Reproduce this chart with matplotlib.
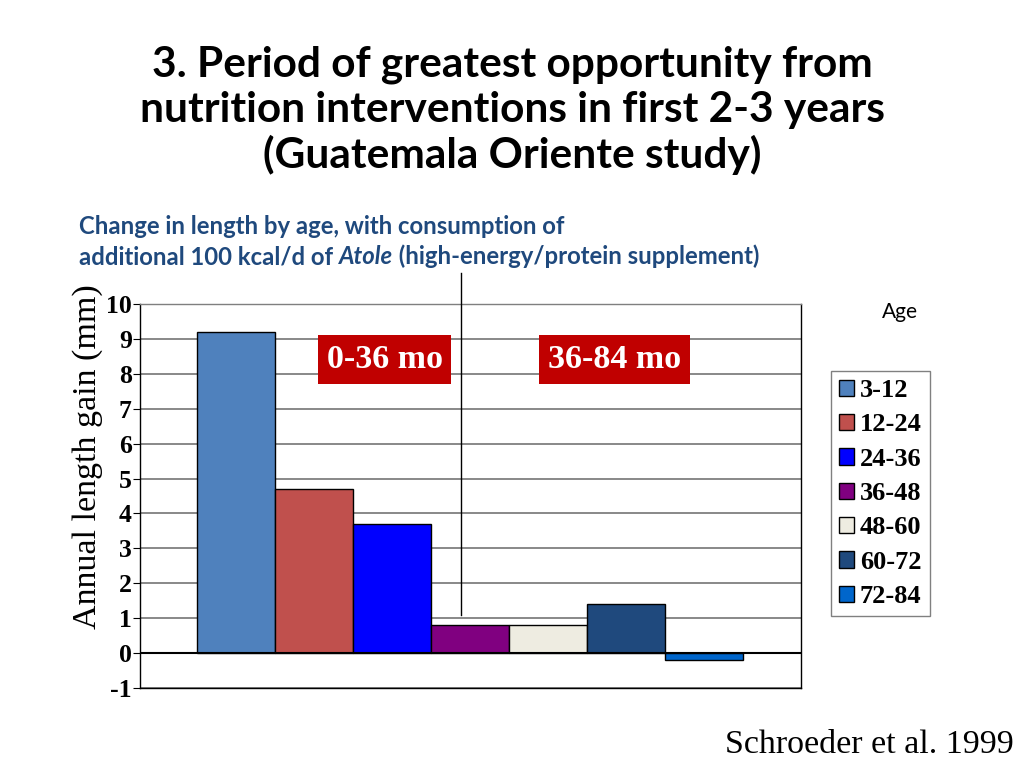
import numpy as np
import matplotlib
matplotlib.use('Agg')
import matplotlib.pyplot as plt

# data
ages = ['3-12', '12-24', '24-36', '36-48', '48-60', '60-72', '72-84']
gain = [9.2, 4.7, 3.7, 0.8, 0.8, 1.4, -0.2]
colors = ['#4F81BD', '#C0504D', '#0000FF', '#800080', '#EEECE1', '#1F497D', '#0066CC']
yticks = list(range(-1, 11))

serif = 'Liberation Serif'

fig = plt.figure(figsize=(10.24, 7.68), dpi=100)
ax = fig.add_axes([0.1367, 0.1042, 0.6455, 0.5])

# bars in one group, centred at 0
width = 0.118
n = len(gain)
xs = (np.arange(n) - (n - 1) / 2) * width
for x, v, c, lab in zip(xs, gain, colors, ages):
    ax.bar(x, v, width=width, color=c, edgecolor='black', linewidth=1, label=lab, zorder=3)

ax.set_xlim(-0.5, 0.5)
ax.set_ylim(-1, 10)
ax.set_yticks(yticks)
ax.set_yticklabels([str(t) for t in yticks], fontfamily=serif, fontweight='bold', fontsize=18.5)
ax.set_xticks([])
ax.tick_params(axis='y', length=5, direction='out', pad=1)
ax.grid(axis='y', color='#7f7f7f', linewidth=1.3, zorder=0)
ax.axhline(0, color='black', linewidth=1.5, zorder=4)
for s in ax.spines.values():
    s.set_color('black')
    s.set_linewidth(1)
ax.spines['top'].set_color('#7f7f7f')

fig.text(0.086, 0.405, 'Annual length gain (mm)', rotation=90, ha='center', va='center',
         fontfamily=serif, fontsize=24.5)

# divider between 0-36 and 36-84 months
ax.plot([-0.014, -0.014], [1.1, 10.9], color='black', linewidth=1, clip_on=False, zorder=5)

ax.text(-0.130, 8.41, '0-36 mo', ha='center', va='center', color='white', fontsize=24.5,
        fontweight='bold', fontfamily=serif, zorder=6,
        bbox=dict(boxstyle='square,pad=0.26', facecolor='#C00000', edgecolor='none'))
ax.text(0.218, 8.41, '36-84 mo', ha='center', va='center', color='white', fontsize=24.5,
        fontweight='bold', fontfamily=serif, zorder=6,
        bbox=dict(boxstyle='square,pad=0.26', facecolor='#C00000', edgecolor='none'))

leg = ax.legend(loc='upper left', bbox_to_anchor=(1.045, 0.825), frameon=True, fancybox=False,
                prop={'family': serif, 'weight': 'bold', 'size': 19},
                handlelength=0.58, handleheight=0.58, handletextpad=0.22, labelspacing=0.43,
                borderpad=0.3, borderaxespad=0)
leg.get_frame().set_edgecolor('#606060')
leg.get_frame().set_linewidth(1)

fig.text(0.879, 0.594, 'Age', ha='center', va='center', fontsize=15, fontfamily='Lato')

# title
fig.text(0.5, 0.856, '3. Period of greatest opportunity from\nnutrition interventions in first 2-3 years\n(Guatemala Oriente study)',
         ha='center', va='center', fontsize=30.5, fontweight='bold', fontfamily='Lato', linespacing=1.2)

# subtitle with italic word
sub_color = '#1F497D'
sub_size = 17.2
fig.text(0.077, 0.705, 'Change in length by age, with consumption of', ha='left', va='center',
         fontsize=sub_size, fontweight='bold', fontfamily='Lato', color=sub_color)
renderer = fig.canvas.get_renderer()
t1 = fig.text(0.077, 0.666, 'additional 100 kcal/d of ', ha='left', va='center',
              fontsize=sub_size, fontweight='bold', fontfamily='Lato', color=sub_color)
bb = t1.get_window_extent(renderer).transformed(fig.transFigure.inverted())
t2 = fig.text(bb.x1, 0.666, 'Atole', ha='left', va='center', fontsize=sub_size, fontweight='bold',
              fontstyle='italic', fontfamily='Lato', color=sub_color)
bb2 = t2.get_window_extent(renderer).transformed(fig.transFigure.inverted())
fig.text(bb2.x1, 0.666, ' (high-energy/protein supplement)', ha='left', va='center',
         fontsize=sub_size, fontweight='bold', fontfamily='Lato', color=sub_color)

fig.text(0.99, 0.03, 'Schroeder et al. 1999', ha='right', va='center', fontsize=24.5,
         fontfamily=serif)

fig.savefig('out.png', dpi=100)
